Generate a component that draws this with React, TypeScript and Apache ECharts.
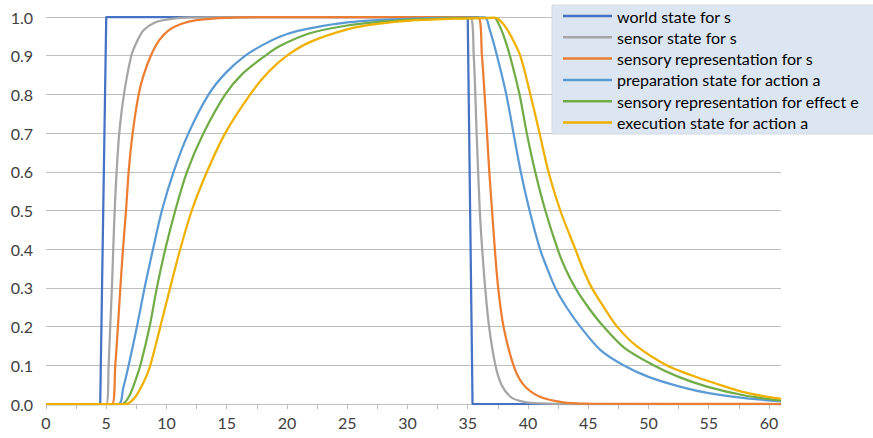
import React, { useEffect, useRef } from 'react';
import * as echarts from 'echarts';

const seriesNames = [
  'world state for s',
  'sensor state for s',
  'sensory representation for s',
  'preparation state for action a',
  'sensory representation for effect e',
  'execution state for action a',
];

const seriesColors = ['#4472C4', '#A5A5A5', '#ED7D31', '#5B9BD5', '#70AD47', '#F0B000'];

const worldState = [[0, 0], [4.5, 0], [5.0, 1], [35.0, 1], [35.4, 0], [61, 0]];

const sensorState = [
  [0, 0], [5.0, 0], [5.2, 0.1], [5.33, 0.2], [5.47, 0.3], [5.58, 0.4], [5.7, 0.5], [5.86, 0.6],
  [6.08, 0.7], [6.47, 0.8], [7.08, 0.9], [7.6, 0.94], [8.1, 0.966], [9, 0.985], [10, 0.993],
  [12, 0.999], [35.2, 1], [35.5, 0.9], [35.74, 0.7], [36.0, 0.5], [36.2, 0.4], [36.45, 0.3],
  [36.77, 0.2], [37.3, 0.1], [37.8, 0.05], [38.5, 0.02], [39.3, 0.008], [40.5, 0.002], [43, 0],
  [61, 0],
];

const sensoryRepS = [
  [0, 0], [5.47, 0], [5.75, 0.1], [5.97, 0.2], [6.17, 0.3], [6.39, 0.4], [6.64, 0.5], [6.86, 0.6],
  [7.19, 0.7], [7.69, 0.8], [8.1, 0.85], [8.7, 0.9], [9.4, 0.94], [10.2, 0.966], [11.2, 0.982],
  [12.5, 0.992], [15, 0.998], [20, 1], [35.85, 1], [36.18, 0.9], [36.4, 0.8], [36.6, 0.7],
  [36.79, 0.6], [37.02, 0.5], [37.25, 0.4], [37.53, 0.3], [37.97, 0.2], [38.8, 0.1], [39.62, 0.05],
  [40.9, 0.02], [42.8, 0.005], [45, 0.001], [61, 0],
];

const preparationA = [
  [0, 0], [6.0, 0], [6.4, 0.04], [6.86, 0.1], [7.55, 0.2], [8.18, 0.3], [8.88, 0.4], [9.62, 0.5],
  [10.59, 0.6], [11.83, 0.7], [13.5, 0.8], [14.9, 0.855], [16.54, 0.9], [18, 0.928], [19.4, 0.949],
  [20.9, 0.964], [23, 0.977], [25, 0.986], [27.5, 0.992], [30.5, 0.996], [33, 0.998], [36.4, 0.999],
  [36.8, 0.97], [37.43, 0.9], [38.2, 0.8], [38.8, 0.7], [39.4, 0.6], [40.13, 0.5], [41.0, 0.4],
  [41.6, 0.35], [42.27, 0.3], [43.2, 0.25], [44.34, 0.2], [46, 0.14], [47.93, 0.1], [50, 0.07],
  [52.6, 0.045], [55, 0.028], [58, 0.015], [61, 0.007],
];

const sensoryRepE = [
  [0, 0], [6.3, 0], [6.9, 0.02], [7.3, 0.05], [7.83, 0.1], [8.6, 0.2], [9.2, 0.3], [9.9, 0.4],
  [10.73, 0.5], [11.7, 0.6], [13.08, 0.7], [14.88, 0.8], [16.3, 0.853], [18.2, 0.9], [19.4, 0.925],
  [21.9, 0.958], [25, 0.978], [27.5, 0.987], [30.5, 0.993], [34, 0.997], [37.2, 0.998], [37.6, 0.98],
  [38.0, 0.95], [38.5, 0.9], [39.3, 0.8], [39.9, 0.7], [40.6, 0.6], [41.44, 0.5], [42.46, 0.4],
  [43.1, 0.35], [43.93, 0.3], [45.0, 0.25], [46.27, 0.2], [48, 0.145], [50.42, 0.1], [52.5, 0.07],
  [54.85, 0.045], [58, 0.022], [61, 0.009],
];

const executionA = [
  [0, 0], [6.58, 0], [7.0, 0.005], [7.5, 0.022], [8.0, 0.05], [8.3, 0.07], [8.66, 0.1], [9.49, 0.2],
  [10.3, 0.3], [11.14, 0.4], [12.1, 0.5], [13.36, 0.6], [14.88, 0.7], [16.95, 0.8], [18.4, 0.856],
  [20.0, 0.9], [21.9, 0.935], [25, 0.968], [27.5, 0.982], [30.5, 0.991], [34.4, 0.996], [37.3, 0.998],
  [38.0, 0.98], [38.6, 0.95], [39.36, 0.9], [40.2, 0.8], [40.96, 0.7], [41.7, 0.6], [42.68, 0.5],
  [43.93, 0.4], [44.55, 0.35], [45.3, 0.3], [46.3, 0.25], [47.4, 0.2], [49, 0.15], [51.5, 0.1],
  [53.5, 0.075], [55.4, 0.055], [58, 0.03], [61, 0.013],
];

const seriesData = [worldState, sensorState, sensoryRepS, preparationA, sensoryRepE, executionA];

export default function App() {
  const ref = useRef<HTMLDivElement>(null);
  useEffect(() => {
    const chart = echarts.init(ref.current as HTMLDivElement, null, { renderer: 'svg' });
    const font = 'Lato, "Liberation Sans", sans-serif';
    chart.setOption({
      animation: false,
      backgroundColor: '#ffffff',
      grid: { left: 46, right: 92, top: 17, bottom: 34, containLabel: false },
      xAxis: {
        type: 'value',
        min: 0,
        max: 61,
        interval: 2.5,
        axisLine: { show: true, lineStyle: { color: '#BFBFBF', width: 1 } },
        axisTick: { show: true, length: 5, lineStyle: { color: '#BFBFBF' } },
        splitLine: { show: false },
        axisLabel: {
          formatter: (v: number) => (Math.abs(v % 5) < 1e-9 ? String(v) : ''),
          color: '#404040',
          fontSize: 16,
          fontFamily: font,
          margin: 10,
          showMaxLabel: false,
        },
      },
      yAxis: {
        type: 'value',
        min: 0,
        max: 1,
        interval: 0.1,
        axisLine: { show: false },
        axisTick: { show: false },
        splitLine: { show: true, lineStyle: { color: '#BFBFBF', width: 1 } },
        axisLabel: {
          formatter: (v: number) => v.toFixed(1),
          color: '#404040',
          fontSize: 16,
          fontFamily: font,
          margin: 13,
        },
      },
      graphic: {
        elements: [
          {
            type: 'rect',
            z: 3,
            shape: { x: 552, y: 5, width: 330, height: 129 },
            style: { fill: '#DCE6F2', stroke: '#D3D9E2', lineWidth: 1 },
          },
        ],
      },
      legend: {
        orient: 'vertical',
        left: 563,
        top: 8,
        padding: 0,
        icon: 'rect',
        itemWidth: 49,
        itemHeight: 2.5,
        itemGap: 5.3,
        z: 5,
        textStyle: { fontSize: 16, lineHeight: 16, color: '#000000', fontFamily: font },
        data: seriesNames,
      },
      series: seriesData.map((d, i) => ({
        name: seriesNames[i],
        type: 'line',
        data: d,
        symbol: 'none',
        showSymbol: false,
        smooth: i === 0 ? false : 0.3,
        color: seriesColors[i],
        lineStyle: { color: seriesColors[i], width: 2.25 },
        z: 2,
      })),
    });
    return () => chart.dispose();
  }, []);
  return (
    <div
      ref={ref}
      style={{ position: 'absolute', left: 0, top: 0, width: 873, height: 438 }}
    />
  );
}
